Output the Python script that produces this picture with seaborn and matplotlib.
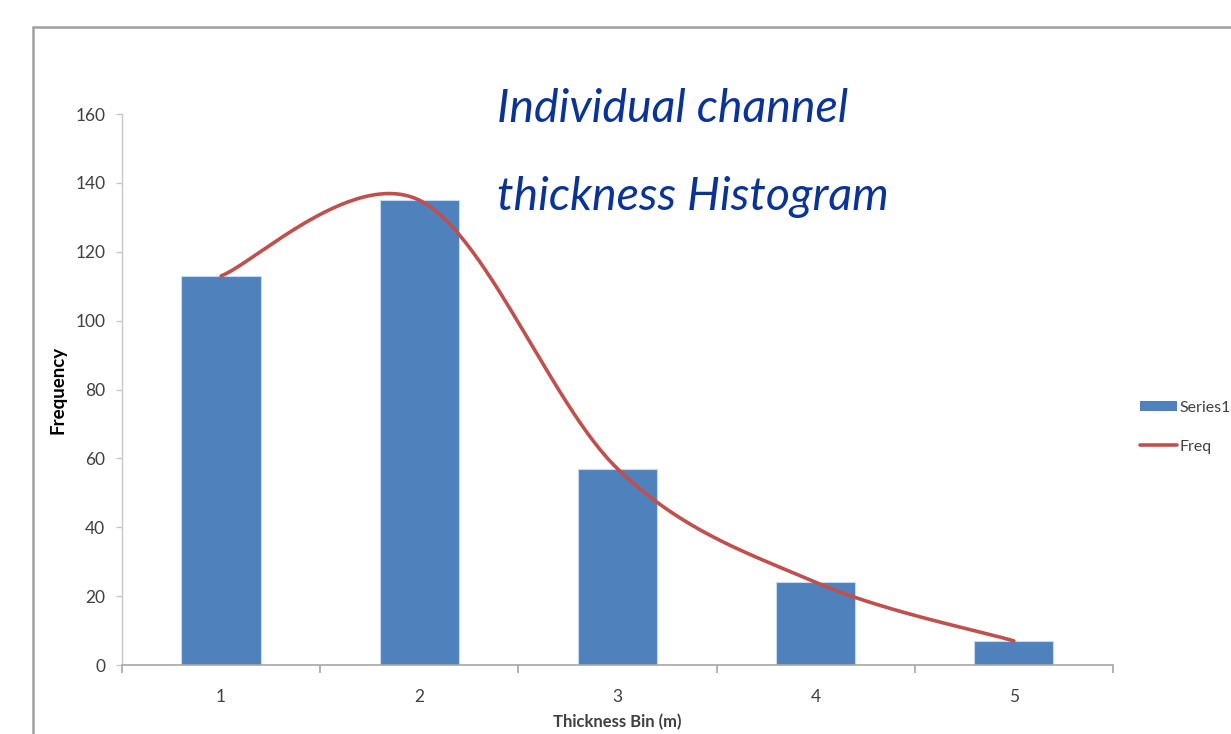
import numpy as np
import pandas as pd
import matplotlib
matplotlib.use("Agg")
import matplotlib.pyplot as plt
from matplotlib.lines import Line2D
from matplotlib.patches import Patch
import seaborn as sns

# Data
bins = ["1", "2", "3", "4", "5"]
series1 = [113, 135, 57, 24, 7]
freq = [113, 135, 57, 24, 7]
y_ticks = [0, 20, 40, 60, 80, 100, 120, 140, 160]

sns.set_theme(style="white")
plt.rcParams["font.family"] = ["Lato", "DejaVu Sans"]

BAR_BLUE = "#4F81BD"
LINE_RED = "#C0504D"
TEXT_GRAY = "#404040"

fig = plt.figure(figsize=(12.31, 7.34), dpi=100)
ax = fig.add_axes([0.0991, 0.094, 0.805, 0.7506])

df = pd.DataFrame({"bin": bins, "count": series1})
sns.barplot(data=df, x="bin", y="count", color=BAR_BLUE, saturation=1,
            width=0.4, edgecolor="#c6d9f1", linewidth=0.8, ax=ax)


def smooth_curve(xs, ys, n=60):
    """Cubic Bezier smoothing through every point (Catmull-Rom tangents)."""
    pts = np.column_stack([xs, ys]).astype(float)
    out = []
    for i in range(len(pts) - 1):
        p0 = pts[max(i - 1, 0)]
        p1 = pts[i]
        p2 = pts[i + 1]
        p3 = pts[min(i + 2, len(pts) - 1)]
        c1 = p1 + (p2 - p0) / 6.0
        c2 = p2 - (p3 - p1) / 6.0
        t = np.linspace(0, 1, n)[:, None]
        seg = ((1 - t) ** 3) * p1 + 3 * ((1 - t) ** 2) * t * c1 \
            + 3 * (1 - t) * t ** 2 * c2 + t ** 3 * p2
        out.append(seg if i == 0 else seg[1:])
    return np.vstack(out)


curve = smooth_curve(np.arange(len(freq)), freq)
ax.plot(curve[:, 0], curve[:, 1], color=LINE_RED, lw=2.6,
        solid_capstyle="round", zorder=5)

ax.set_xlim(-0.5, len(bins) - 0.5)
ax.set_ylim(0, 160)
ax.set_yticks(y_ticks)

# Axis styling
for side in ["top", "right"]:
    ax.spines[side].set_visible(False)
ax.spines["left"].set_color("#c8c8c8")
ax.spines["bottom"].set_color("#a6a6a6")
ax.spines["left"].set_linewidth(1.0)
ax.spines["bottom"].set_linewidth(1.2)

ax.tick_params(axis="y", which="major", direction="out", length=4, width=1,
               color="#c8c8c8", labelsize=12.5, labelcolor=TEXT_GRAY, pad=8,
               left=True)
ax.set_xticks(np.arange(len(bins)))
ax.set_xticks(np.arange(len(bins) + 1) - 0.5, minor=True)
ax.tick_params(axis="x", which="major", length=0, labelsize=12.5,
               labelcolor=TEXT_GRAY, pad=17)
ax.tick_params(axis="x", which="minor", direction="out", length=6, width=1.2,
               color="#a6a6a6", bottom=True)

ax.set_ylabel("Frequency", fontsize=13.5, fontweight="bold", color="black",
              labelpad=6)
ax.set_xlabel("Thickness Bin (m)", fontsize=12, fontweight="bold",
              color=TEXT_GRAY, labelpad=7)

# Title block
fig.text(0.4037, 0.851, "Individual channel", fontsize=33.5, style="italic",
         color="#0a3399", ha="left", va="center")
fig.text(0.4037, 0.731, "thickness Histogram", fontsize=33.5, style="italic",
         color="#0a3399", ha="left", va="center")

# Legend
handles = [Patch(facecolor=BAR_BLUE, edgecolor="none"),
           Line2D([0], [0], color=LINE_RED, lw=2.6)]
fig.legend(handles, ["Series1", "Freq"], loc="center left",
           bbox_to_anchor=(0.926, 0.418), frameon=False, fontsize=11.5,
           handlelength=2.3, handleheight=0.6, handletextpad=0.15,
           labelspacing=1.55, labelcolor=TEXT_GRAY, borderpad=0,
           borderaxespad=0)

# Outer chart frame
frame_kw = dict(color="#a0a0a0", lw=1.8, transform=fig.transFigure)
fig.add_artist(Line2D([0.0268, 0.0268], [0.0, 0.9632], **frame_kw))
fig.add_artist(Line2D([0.0268, 1.0], [0.9632, 0.9632], **frame_kw))

fig.savefig("out.png", dpi=100)
